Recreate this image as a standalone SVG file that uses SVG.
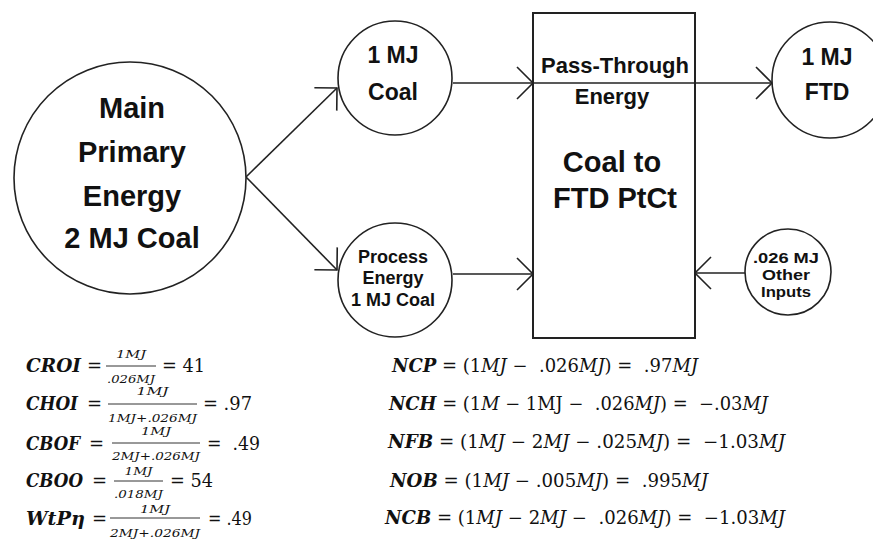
<svg xmlns="http://www.w3.org/2000/svg" width="873" height="540" viewBox="0 0 873 540">
<defs>
<style>
.node{fill:#fff;stroke:#222;stroke-width:1.6}
.lbl{font-family:"Liberation Sans",Arial,sans-serif;font-weight:bold;fill:#111;text-anchor:middle}
.conn{stroke:#222;stroke-width:1.6;fill:none}
.m{font-family:"DejaVu Serif","Liberation Serif",serif;font-size:18px;fill:#111;white-space:pre}
.b{font-weight:bold;font-style:italic}
.i{font-style:italic}
.s{font-family:"DejaVu Serif","Liberation Serif",serif;font-size:11px;font-style:italic;fill:#111;text-anchor:middle}
.bar{stroke:#333;stroke-width:1}
</style>
<marker id="arr" markerUnits="userSpaceOnUse" markerWidth="40" markerHeight="40" viewBox="-20 -20 40 40" refX="0" refY="0" orient="auto" overflow="visible">
<path d="M-16,-16 L0,0 L-16,16" fill="none" stroke="#222" stroke-width="1.6"/>
</marker>
</defs>
<rect width="873" height="540" fill="#fff"/>

<g id="connectors">
<line class="conn" x1="246" y1="177" x2="337" y2="88" marker-end="url(#arr)"/>
<line class="conn" x1="246" y1="177" x2="337" y2="270" marker-end="url(#arr)"/>
<line class="conn" x1="453" y1="83" x2="533" y2="83" marker-end="url(#arr)"/>
<line class="conn" x1="533" y1="83" x2="772" y2="83" marker-end="url(#arr)"/>
<line class="conn" x1="453" y1="274" x2="533" y2="274" marker-end="url(#arr)"/>
<line class="conn" x1="745" y1="273" x2="695" y2="273" marker-end="url(#arr)"/>
</g>

<g id="main">
<circle class="node" cx="130" cy="178" r="116"/>
<text class="lbl" font-size="29"><tspan x="132" y="118">Main</tspan><tspan x="132" y="162">Primary</tspan><tspan x="132" y="206">Energy</tspan><tspan x="132" y="248">2 MJ Coal</tspan></text>
</g>

<g id="coal1">
<circle class="node" cx="395" cy="78" r="57"/>
<text class="lbl" font-size="23"><tspan x="393" y="63">1 MJ</tspan><tspan x="393" y="100">Coal</tspan></text>
</g>

<g id="process">
<circle class="node" cx="395" cy="280" r="57"/>
<text class="lbl" font-size="18"><tspan x="393" y="263">Process</tspan><tspan x="393" y="284">Energy</tspan><tspan x="393" y="306">1 MJ Coal</tspan></text>
</g>

<g id="box">
<rect x="533" y="13" width="162" height="325" fill="none" stroke="#222" stroke-width="2"/>
<text class="lbl" font-size="22"><tspan x="615" y="73">Pass-Through</tspan><tspan x="612" y="104">Energy</tspan></text>
<text class="lbl" font-size="29"><tspan x="612" y="172">Coal to</tspan><tspan x="615" y="208">FTD PtCt</tspan></text>
</g>

<g id="ftd">
<circle class="node" cx="830" cy="80" r="58"/>
<text class="lbl" font-size="23"><tspan x="827" y="65">1 MJ</tspan><tspan x="827" y="100">FTD</tspan></text>
</g>

<g id="other">
<circle class="node" cx="788" cy="272" r="43"/>
<text class="lbl" font-size="15"><tspan x="786" y="263" textLength="66" lengthAdjust="spacingAndGlyphs">.026 MJ</tspan><tspan x="786" y="280" textLength="48" lengthAdjust="spacingAndGlyphs">Other</tspan><tspan x="786" y="297" textLength="50" lengthAdjust="spacingAndGlyphs">Inputs</tspan></text>
</g>

<g id="formulas-left">
<text class="m b" x="26" y="372" textLength="55" lengthAdjust="spacingAndGlyphs">CROI</text>
<text class="m" x="87" y="372">=</text>
<line class="bar" x1="106" y1="366" x2="156" y2="366"/>
<text class="s" x="131" y="358" textLength="30" lengthAdjust="spacingAndGlyphs">1MJ</text>
<text class="s" x="131" y="383" textLength="48" lengthAdjust="spacingAndGlyphs">.026MJ</text>
<text class="m" x="162" y="372" textLength="43" lengthAdjust="spacingAndGlyphs">= 41</text>

<text class="m b" x="26" y="410" textLength="52" lengthAdjust="spacingAndGlyphs">CHOI</text>
<text class="m" x="87" y="410">=</text>
<line class="bar" x1="108" y1="404" x2="197" y2="404"/>
<text class="s" x="152.5" y="395" textLength="32" lengthAdjust="spacingAndGlyphs">1MJ</text>
<text class="s" x="152.5" y="422" textLength="89" lengthAdjust="spacingAndGlyphs">1MJ+.026MJ</text>
<text class="m" x="203" y="410" textLength="49" lengthAdjust="spacingAndGlyphs">= .97</text>

<text class="m b" x="26" y="450" textLength="54" lengthAdjust="spacingAndGlyphs">CBOF</text>
<text class="m" x="89" y="450">=</text>
<line class="bar" x1="112" y1="443" x2="200" y2="443"/>
<text class="s" x="156" y="435" textLength="30" lengthAdjust="spacingAndGlyphs">1MJ</text>
<text class="s" x="156" y="460" textLength="88" lengthAdjust="spacingAndGlyphs">2MJ+.026MJ</text>
<text class="m" x="207" y="450" textLength="53" lengthAdjust="spacingAndGlyphs">=  .49</text>

<text class="m b" x="26" y="487" textLength="57" lengthAdjust="spacingAndGlyphs">CBOO</text>
<text class="m" x="92" y="487">=</text>
<line class="bar" x1="114" y1="481" x2="163" y2="481"/>
<text class="s" x="138.5" y="474.5" textLength="28" lengthAdjust="spacingAndGlyphs">1MJ</text>
<text class="s" x="138.5" y="498" textLength="49" lengthAdjust="spacingAndGlyphs">.018MJ</text>
<text class="m" x="170" y="487" textLength="43" lengthAdjust="spacingAndGlyphs">= 54</text>

<text class="m b" x="26" y="525" textLength="59" lengthAdjust="spacingAndGlyphs">WtPη</text>
<text class="m" x="92" y="525">=</text>
<line class="bar" x1="110" y1="518" x2="200" y2="518"/>
<text class="s" x="155" y="513" textLength="30" lengthAdjust="spacingAndGlyphs">1MJ</text>
<text class="s" x="155" y="537" textLength="90" lengthAdjust="spacingAndGlyphs">2MJ+.026MJ</text>
<text class="m" x="208" y="525" textLength="44" lengthAdjust="spacingAndGlyphs">= .49</text>
</g>

<g id="formulas-right">
<text class="m" x="392" y="372" textLength="306" lengthAdjust="spacingAndGlyphs"><tspan class="b">NCP</tspan> = (1<tspan class="i">MJ</tspan> −  .026<tspan class="i">MJ</tspan>) =  .97<tspan class="i">MJ</tspan></text>
<text class="m" x="389" y="410" textLength="379" lengthAdjust="spacingAndGlyphs"><tspan class="b">NCH</tspan> = (1<tspan class="i">M</tspan> − 1MJ −  .026<tspan class="i">MJ</tspan>) =  −.03<tspan class="i">MJ</tspan></text>
<text class="m" x="388" y="448" textLength="397" lengthAdjust="spacingAndGlyphs"><tspan class="b">NFB</tspan> = (1<tspan class="i">MJ</tspan> − 2<tspan class="i">MJ</tspan> − .025<tspan class="i">MJ</tspan>) =  −1.03<tspan class="i">MJ</tspan></text>
<text class="m" x="390" y="487" textLength="318" lengthAdjust="spacingAndGlyphs"><tspan class="b">NOB</tspan> = (1<tspan class="i">MJ</tspan> − .005<tspan class="i">MJ</tspan>) =  .995<tspan class="i">MJ</tspan></text>
<text class="m" x="385" y="524" textLength="400" lengthAdjust="spacingAndGlyphs"><tspan class="b">NCB</tspan> = (1<tspan class="i">MJ</tspan> − 2<tspan class="i">MJ</tspan> −  .026<tspan class="i">MJ</tspan>) =  −1.03<tspan class="i">MJ</tspan></text>
</g>
</svg>
